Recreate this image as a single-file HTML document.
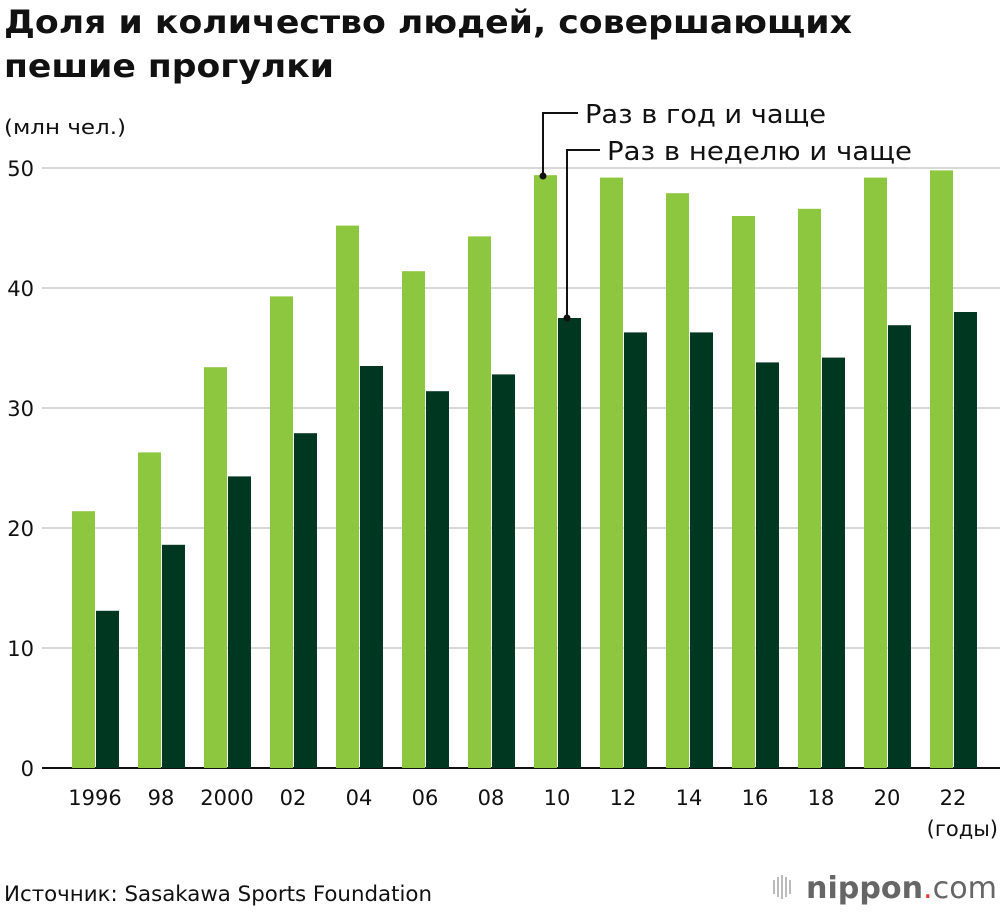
<!DOCTYPE html>
<html><head><meta charset="utf-8"><style>
body{margin:0;background:#fff;width:1000px;height:912px;overflow:hidden;font-family:"DejaVu Sans","Liberation Sans",sans-serif}
</style></head><body>
<svg id="c" width="1000" height="912" xmlns="http://www.w3.org/2000/svg">
<text x="4" y="33" font-size="32" font-weight="bold" fill="#111" textLength="848" lengthAdjust="spacingAndGlyphs">Доля и количество людей, совершающих</text>
<text x="4" y="77" font-size="32" font-weight="bold" fill="#111" textLength="330" lengthAdjust="spacingAndGlyphs">пешие прогулки</text>
<text x="4" y="134" font-size="20" fill="#111" textLength="122" lengthAdjust="spacingAndGlyphs">(млн чел.)</text>
<g id="grid"></g><g id="bars"></g><g id="xl"></g>
<g>
<circle cx="543" cy="176" r="3.5" fill="#111"/><polyline points="543,176 543,113 578,113" fill="none" stroke="#111" stroke-width="2"/>
<text x="585" y="123" font-size="26" fill="#111" textLength="241" lengthAdjust="spacingAndGlyphs">Раз в год и чаще</text></g>
<g>
<circle cx="567" cy="318" r="3.5" fill="#111"/><polyline points="567,318 567,150 600,150" fill="none" stroke="#111" stroke-width="2"/>
<text x="607" y="160" font-size="26" fill="#111" textLength="305" lengthAdjust="spacingAndGlyphs">Раз в неделю и чаще</text></g>
<text x="998" y="836" font-size="21" text-anchor="end" fill="#111">(годы)</text>
<text x="4" y="901" font-size="21" fill="#111" textLength="428" lengthAdjust="spacingAndGlyphs">Источник: Sasakawa Sports Foundation</text>
<g>
<g fill="#bbb"><rect x="773" y="880" width="2" height="14"/><rect x="777" y="877" width="2" height="20"/><rect x="781" y="875" width="2" height="24"/><rect x="785" y="877" width="2" height="20"/><rect x="789" y="880" width="2" height="14"/></g>
<text x="806" y="898" font-size="30" fill="#666" font-weight="bold" textLength="191" lengthAdjust="spacingAndGlyphs">nippon<tspan fill="#e33" font-weight="normal">.</tspan><tspan font-weight="normal">com</tspan></text></g>
</svg>
<script>
const years=["1996","98","2000","02","04","06","08","10","12","14","16","18","20","22"];
const yearly=[21.4,26.3,33.4,39.3,45.2,41.4,44.3,49.4,49.2,47.9,46.0,46.6,49.2,49.8];
const weekly=[13.1,18.6,24.3,27.9,33.5,31.4,32.8,37.5,36.3,36.3,33.8,34.2,36.9,38.0];
const ticks=[0,10,20,30,40,50];
const NS="http://www.w3.org/2000/svg";
const y=v=>768-v*12, xc=i=>95+i*66;
function mk(t,a,p){const e=document.createElementNS(NS,t);for(const k in a)e.setAttribute(k,a[k]);p.appendChild(e);return e;}
const g=document.getElementById('grid');
ticks.forEach(t=>{
 const l=mk('line',{x1:42,x2:1000,y1:y(t),y2:y(t),stroke:t?'#ccc':'#111','stroke-width':t?1.5:2},g);
 
 
 const tx=mk('text',{x:34,y:y(t)+8,'font-size':21,'text-anchor':'end',fill:'#111'},g);tx.textContent=t;
 
 
});
const b=document.getElementById('bars'),xl=document.getElementById('xl');
years.forEach((yr,i)=>{
 const r1=mk('rect',{x:xc(i)-23,y:y(yearly[i]),width:23,height:yearly[i]*12,fill:'#8dc63f'},b);
 
 
 const r2=mk('rect',{x:xc(i)+1,y:y(weekly[i]),width:23,height:weekly[i]*12,fill:'#003720'},b);
 
 
 const t=mk('text',{x:xc(i),y:805,'font-size':21,'text-anchor':'middle',fill:'#111'},xl);t.textContent=yr;
 
 
});
</script>
</body></html>
